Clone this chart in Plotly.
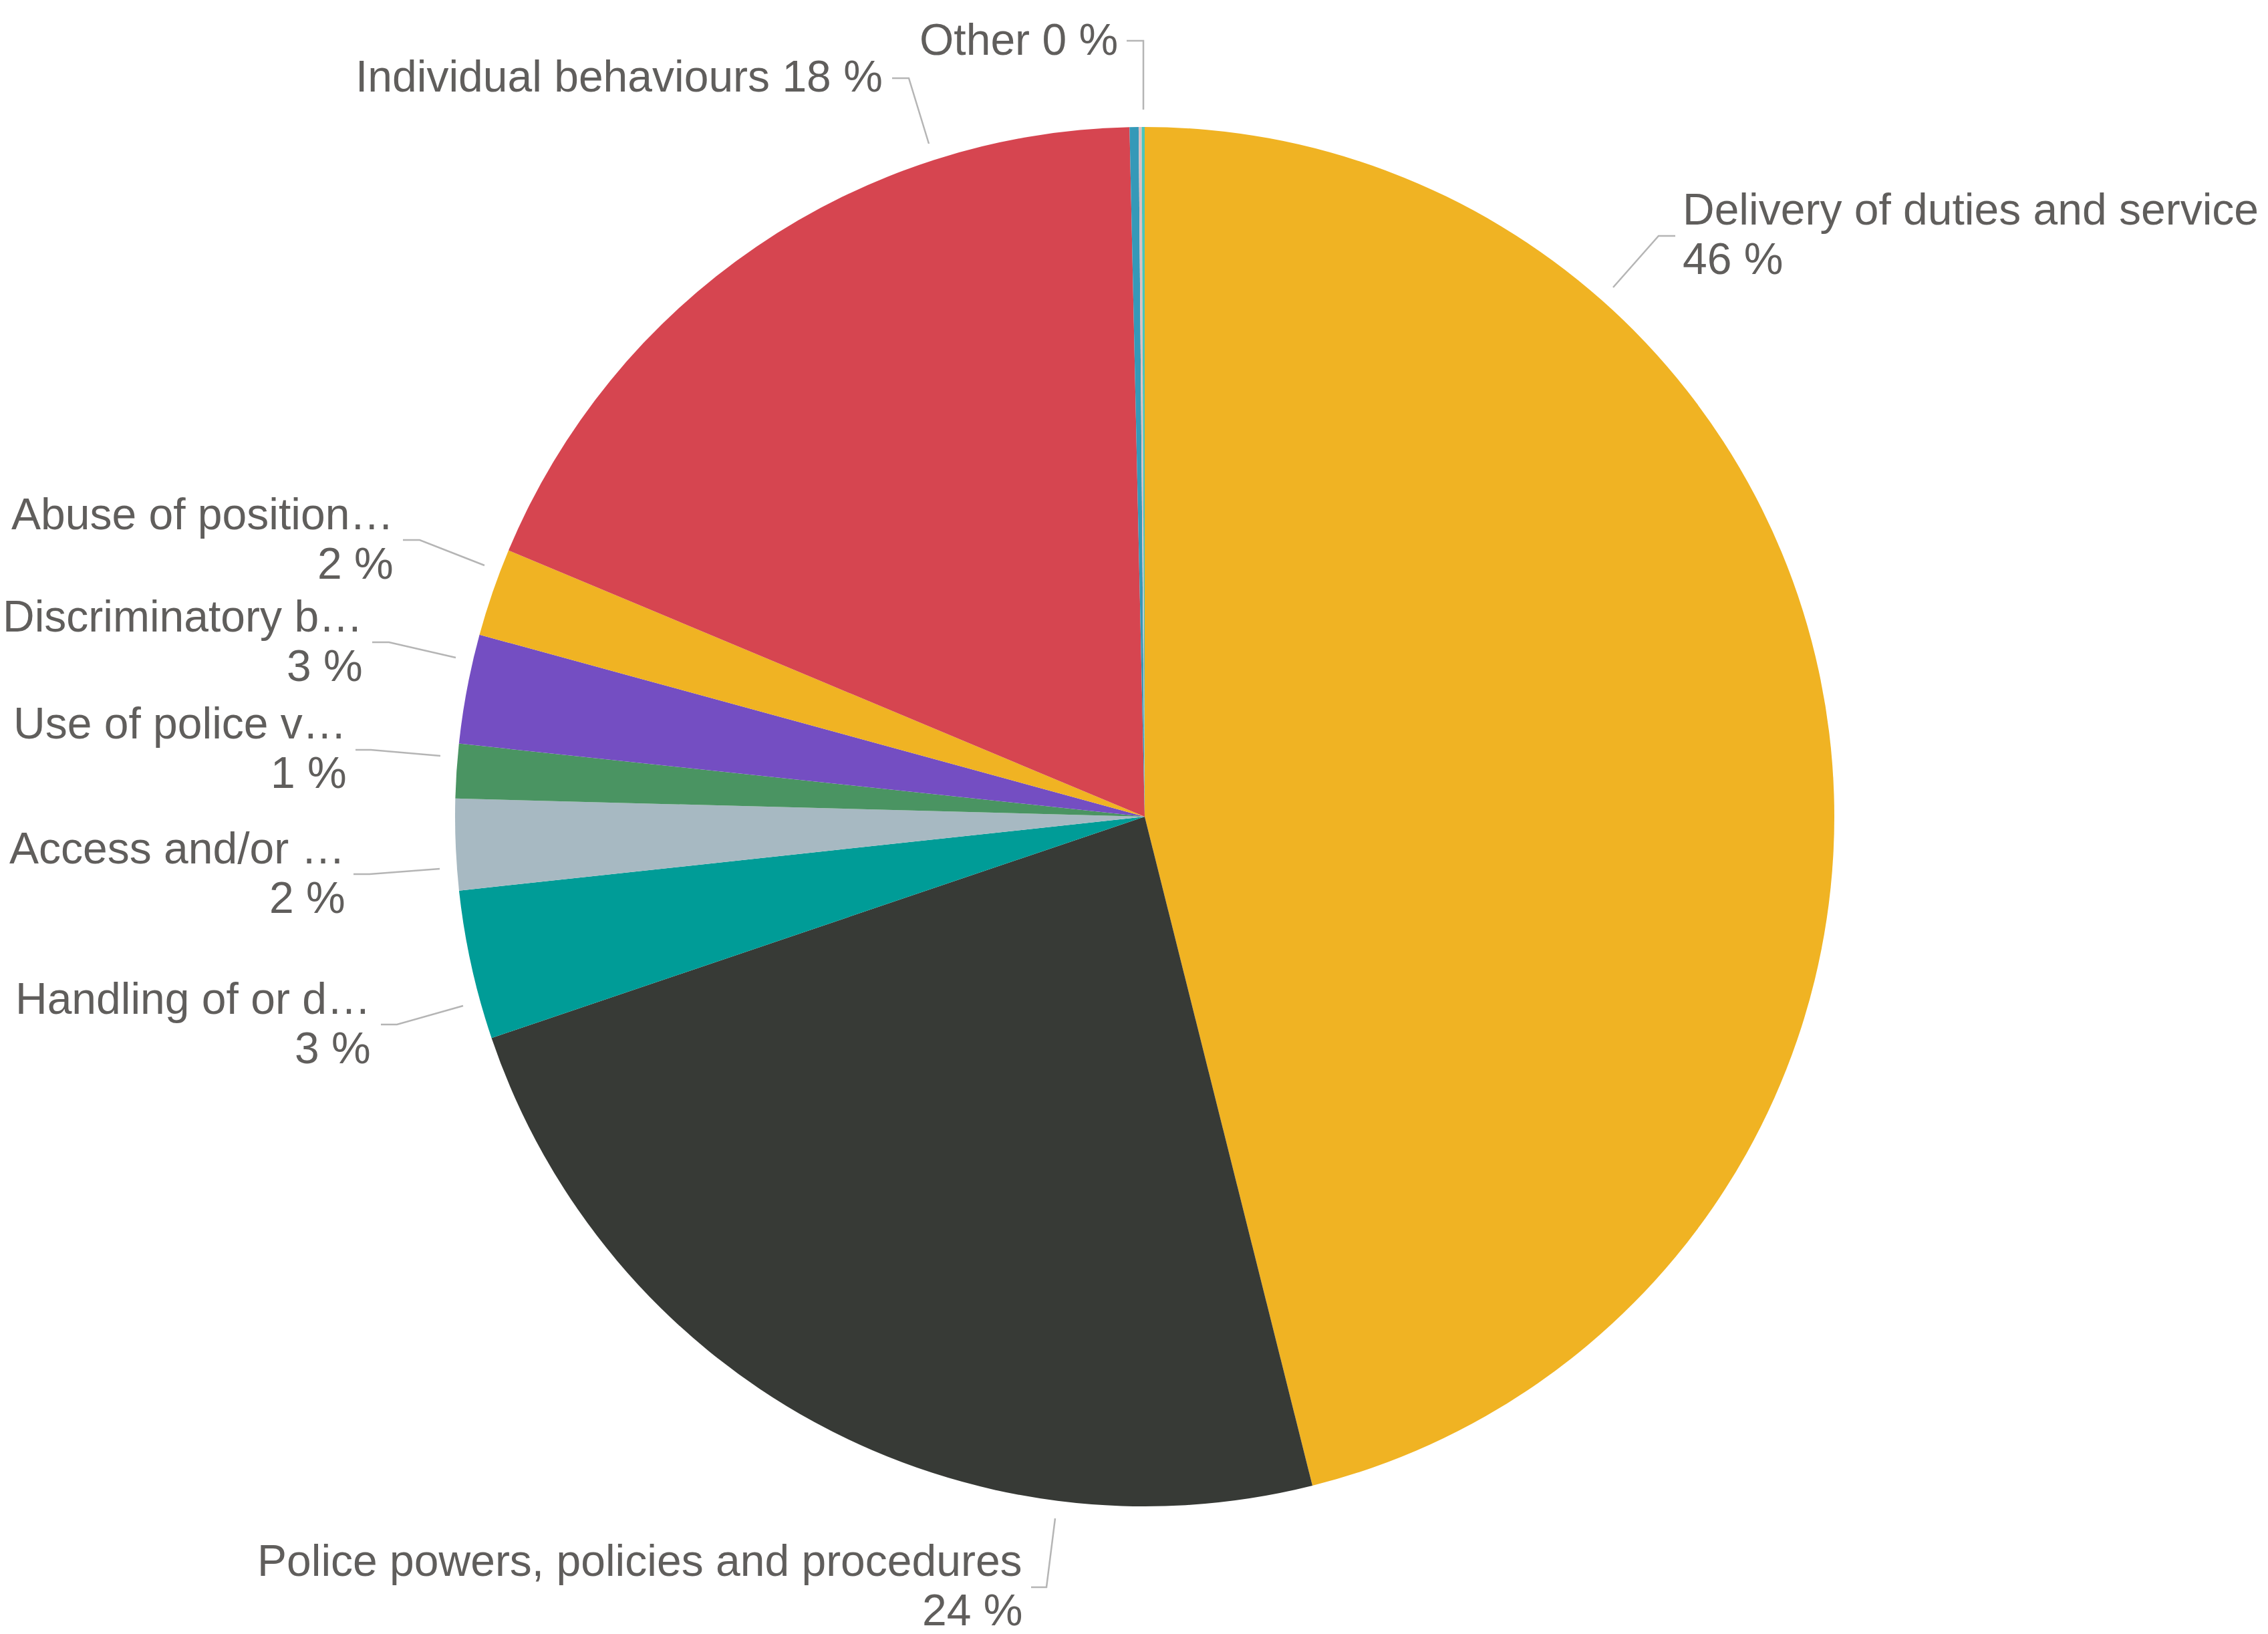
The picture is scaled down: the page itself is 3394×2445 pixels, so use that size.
import plotly.graph_objects as go

# Complaint categories, shares (%) and display names
categories = [
    "Delivery of duties and service",
    "Police powers, policies and procedures",
    "Handling of or damage to property/premises",
    "Access and/or disclosure of information",
    "Use of police vehicles",
    "Discriminatory behaviour",
    "Abuse of position/corruption",
    "Individual behaviours",
    "Sexual conduct",
    "Other",
    "Not recorded",
]
shares = [46.09, 23.71, 3.49, 2.13, 1.27, 2.56, 2.06, 18.34, 0.21, 0.07, 0.07]
short_names = [
    "Delivery of duties and service",
    "Police powers, policies and procedures",
    "Handling of or d\u2026",
    "Access and/or \u2026",
    "Use of police v\u2026",
    "Discriminatory b\u2026",
    "Abuse of position\u2026",
    "Individual behaviours",
    None,
    "Other",
    None,
]
slice_colors = [
    "#F0B323", "#373A36", "#009C97", "#A7B9C2", "#4A9462", "#744EC2",
    "#F0B323", "#D64550", "#3599B8", "#DFBFBF", "#4AC5BB",
]

W, H = 3394, 2445
CX, CY, R = 1713, 1222, 1032
FONT = "Liberation Sans, Arial, sans-serif"
TEXT_COLOR = "#605E5C"
LINE_COLOR = "#B5B5B5"
FS = 66
LINE_GAP = 74

# Label placement: anchor x, side, first baseline, two-line or single-line, leader path
label_layout = {
    0: dict(x=2516, anchor="left", base=336, lines=2,
            leader=[(2414, 430), (2482, 353), (2507, 353)]),
    1: dict(x=1532, anchor="right", base=2358, lines=2,
            leader=[(1579, 2272), (1566, 2375), (1543, 2375)]),
    2: dict(x=557, anchor="right", base=1517, lines=2,
            leader=[(693, 1505), (594, 1533), (570, 1533)]),
    3: dict(x=519, anchor="right", base=1292, lines=2,
            leader=[(658, 1300), (553, 1308), (529, 1308)]),
    4: dict(x=521, anchor="right", base=1105, lines=2,
            leader=[(659, 1131), (555, 1122), (532, 1122)]),
    5: dict(x=545, anchor="right", base=945, lines=2,
            leader=[(682, 984), (582, 961), (557, 961)]),
    6: dict(x=591, anchor="right", base=792, lines=2,
            leader=[(725, 846), (628, 808), (603, 808)]),
    7: dict(x=1323, anchor="right", base=137, lines=1,
            leader=[(1390, 215), (1360, 117), (1335, 117)]),
    9: dict(x=1675, anchor="right", base=82, lines=1,
            leader=[(1711, 164), (1711, 61), (1686, 61)]),
}

fig = go.Figure()

fig.add_trace(go.Pie(
    labels=categories,
    values=shares,
    sort=False,
    direction="clockwise",
    rotation=0,
    marker=dict(colors=slice_colors, line=dict(width=0)),
    textinfo="none",
    hoverinfo="label+percent",
    showlegend=False,
    domain=dict(
        x=[(CX - R) / W, (CX + R) / W],
        y=[1 - (CY + R) / H, 1 - (CY - R) / H],
    ),
))

annotations = []
shapes = []
for i, spec in label_layout.items():
    pct = f"{round(shares[i])} %"
    name = short_names[i]
    if spec["lines"] == 2:
        rows = [name, pct]
    else:
        rows = [f"{name} {pct}"]
    for k, row in enumerate(rows):
        baseline = spec["base"] + k * LINE_GAP
        annotations.append(dict(
            x=spec["x"], y=baseline - 0.35 * FS, xref="x", yref="y",
            text=row, showarrow=False,
            xanchor=spec["anchor"], yanchor="middle",
            font=dict(family=FONT, size=FS, color=TEXT_COLOR),
        ))
    pts = spec["leader"]
    path = "M " + " L ".join(f"{px},{py}" for px, py in pts)
    shapes.append(dict(type="path", path=path, xref="x", yref="y",
                       line=dict(color=LINE_COLOR, width=2.5)))

fig.update_layout(
    width=W, height=H,
    margin=dict(l=0, r=0, t=0, b=0),
    paper_bgcolor="white",
    plot_bgcolor="white",
    xaxis=dict(range=[0, W], visible=False, fixedrange=True),
    yaxis=dict(range=[H, 0], visible=False, fixedrange=True),
    annotations=annotations,
    shapes=shapes,
    showlegend=False,
)

fig.write_html("out.html")
